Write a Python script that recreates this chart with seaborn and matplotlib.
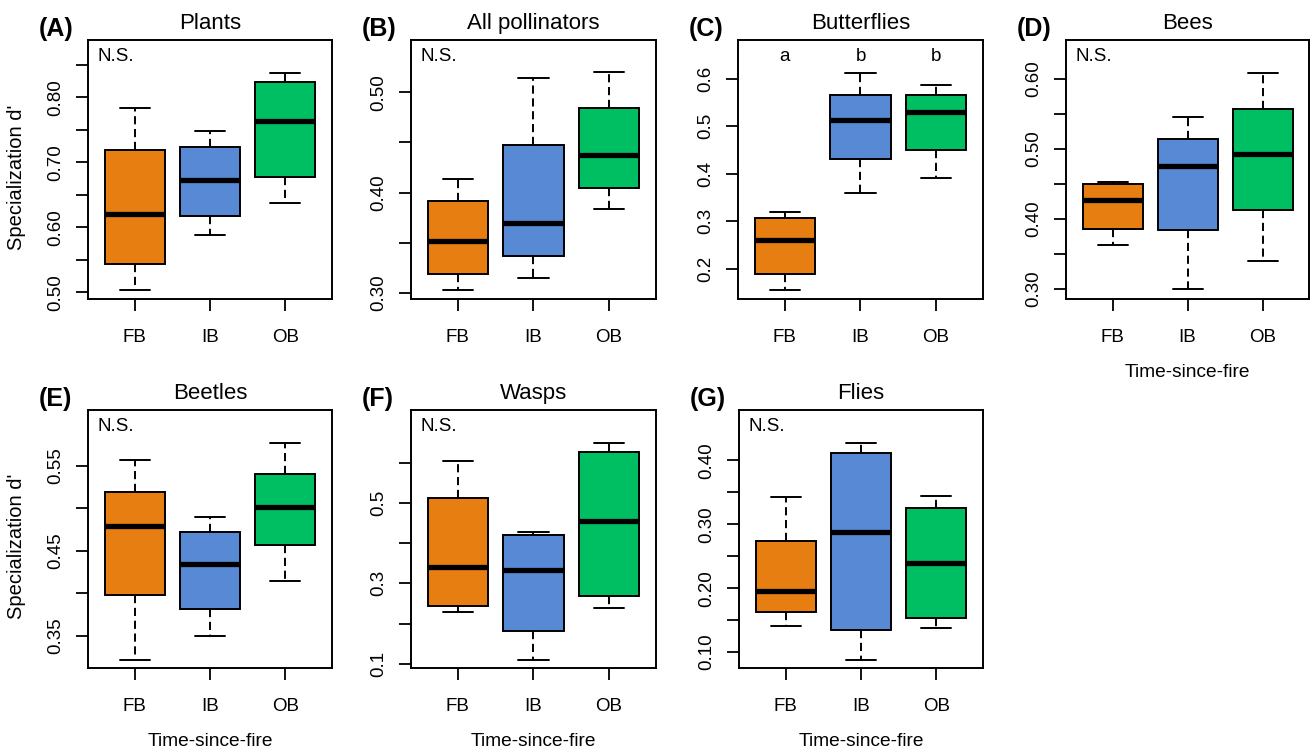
import numpy as np
import pandas as pd
import matplotlib
matplotlib.use("Agg")
import matplotlib.pyplot as plt
import seaborn as sns

# --- data: five-number summaries (min, Q1, median, Q3, max) per fire class ---
FIRE = ["FB", "IB", "OB"]
COLORS = ["#E67E11", "#5889D5", "#00BF63"]

plants = {"FB": [0.504, 0.543, 0.620, 0.719, 0.783],
          "IB": [0.588, 0.617, 0.672, 0.723, 0.748],
          "OB": [0.637, 0.678, 0.764, 0.823, 0.838]}
pollinators = {"FB": [0.303, 0.319, 0.352, 0.392, 0.414],
               "IB": [0.315, 0.337, 0.370, 0.447, 0.514],
               "OB": [0.384, 0.405, 0.437, 0.484, 0.520]}
butterflies = {"FB": [0.156, 0.190, 0.260, 0.307, 0.320],
               "IB": [0.360, 0.431, 0.512, 0.566, 0.612],
               "OB": [0.391, 0.450, 0.529, 0.566, 0.587]}
bees = {"FB": [0.363, 0.385, 0.427, 0.449, 0.452],
        "IB": [0.300, 0.384, 0.476, 0.514, 0.545],
        "OB": [0.340, 0.412, 0.493, 0.556, 0.608]}
beetles = {"FB": [0.322, 0.398, 0.479, 0.519, 0.557],
           "IB": [0.350, 0.381, 0.434, 0.472, 0.490],
           "OB": [0.415, 0.457, 0.502, 0.540, 0.577]}
wasps = {"FB": [0.230, 0.245, 0.341, 0.512, 0.604],
         "IB": [0.111, 0.181, 0.333, 0.421, 0.428],
         "OB": [0.239, 0.270, 0.455, 0.627, 0.649]}
flies = {"FB": [0.141, 0.163, 0.196, 0.274, 0.343],
         "IB": [0.088, 0.135, 0.288, 0.411, 0.428],
         "OB": [0.137, 0.154, 0.239, 0.326, 0.344]}

TITLES = ["Plants", "All pollinators", "Butterflies", "Bees", "Beetles", "Wasps", "Flies"]
LETTERS = ["(A)", "(B)", "(C)", "(D)", "(E)", "(F)", "(G)"]
PANELS = [plants, pollinators, butterflies, bees, beetles, wasps, flies]
YLIMS = [(0.4897, 0.888), (0.294, 0.552), (0.137, 0.681), (0.2857, 0.655),
         (0.312, 0.616), (0.09, 0.7306), (0.075, 0.479)]
YTICKS = [[0.50, 0.55, 0.60, 0.65, 0.70, 0.75, 0.80, 0.85],
          [0.30, 0.35, 0.40, 0.45, 0.50],
          [0.2, 0.3, 0.4, 0.5, 0.6],
          [0.30, 0.35, 0.40, 0.45, 0.50, 0.55, 0.60],
          [0.35, 0.40, 0.45, 0.50, 0.55],
          [0.1, 0.2, 0.3, 0.4, 0.5, 0.6],
          [0.10, 0.15, 0.20, 0.25, 0.30, 0.35, 0.40]]
YLABELS = [["0.50", "", "0.60", "", "0.70", "", "0.80", ""],
           ["0.30", "", "0.40", "", "0.50"],
           ["0.2", "0.3", "0.4", "0.5", "0.6"],
           ["0.30", "", "0.40", "", "0.50", "", "0.60"],
           ["0.35", "", "0.45", "", "0.55"],
           ["0.1", "", "0.3", "", "0.5", ""],
           ["0.10", "", "0.20", "", "0.30", "", "0.40"]]
SIG_LETTERS = ["a", "b", "b"]  # butterflies only

# --- layout (pixel boxes: left, top, right, bottom) ---
W, H = 1311, 749
BOXES = [(88, 40, 332, 299), (411, 40, 656, 299), (738, 40, 983, 299), (1066, 40, 1309, 299),
         (88, 410, 332, 668), (411, 410, 656, 668), (739, 410, 983, 668)]

sns.set_style("ticks")
plt.rcParams["font.family"] = ["Liberation Sans", "DejaVu Sans"]
plt.rcParams["axes.linewidth"] = 1.4
for key in ["text.color", "axes.labelcolor", "xtick.color", "ytick.color", "axes.edgecolor"]:
    plt.rcParams[key] = "black"

fig = plt.figure(figsize=(W / 100, H / 100), dpi=100)

for i, panel in enumerate(PANELS):
    l, t, r, b = BOXES[i]
    ax = fig.add_axes([l / W, 1 - b / H, (r - l) / W, (b - t) / H])

    df = pd.DataFrame([(g, v) for g in FIRE for v in panel[g]], columns=["fire", "d"])
    sns.boxplot(data=df, x="fire", y="d", hue="fire", order=FIRE, hue_order=FIRE,
                palette=COLORS, saturation=1, width=0.8, whis=(0, 100), showfliers=False,
                linecolor="black", linewidth=1.4, legend=False, ax=ax,
                medianprops={"linewidth": 3.8, "color": "black"},
                whiskerprops={"linestyle": (0, (4.2, 2.4))},
                capprops={"linestyle": "-"})

    ax.set_xlim(-0.62, 2.62)
    ax.set_ylim(*YLIMS[i])
    ax.set_yticks(YTICKS[i])
    ax.set_yticklabels(YLABELS[i], rotation=90, va="center")
    ax.tick_params(axis="y", length=8.9, width=1.3, pad=8, labelsize=13.5)
    ax.tick_params(axis="x", length=8.9, width=1.3, pad=12.5, labelsize=13.5)
    for s in ax.spines.values():
        s.set_visible(True)
        s.set_color("black")

    ax.set_title(TITLES[i], fontsize=16, pad=7.7)
    fig.text((l - 49) / W, 1 - (t - 4) / H, LETTERS[i], fontsize=18,
             fontweight="bold", ha="left", va="baseline")

    if i in (0, 4):
        ax.set_ylabel("Specialization d'", fontsize=14.5)
        ax.yaxis.set_label_coords(-0.255, 0.47)
    else:
        ax.set_ylabel("")
    if i in (3, 4, 5, 6):
        ax.set_xlabel("Time-since-fire", fontsize=13.8)
        ax.xaxis.set_label_coords(0.5, -0.25)
    else:
        ax.set_xlabel("")

    if i == 2:
        for k, lab in enumerate(SIG_LETTERS):
            ax.text(k, 0.636, lab, ha="center", va="baseline", fontsize=13.5)
    else:
        ax.annotate("N.S.", xy=(0, 1), xycoords="axes fraction", xytext=(6.5, -15.1),
                    textcoords="offset points", ha="left", va="baseline", fontsize=13.5)

fig.savefig("out.png", dpi=100)
